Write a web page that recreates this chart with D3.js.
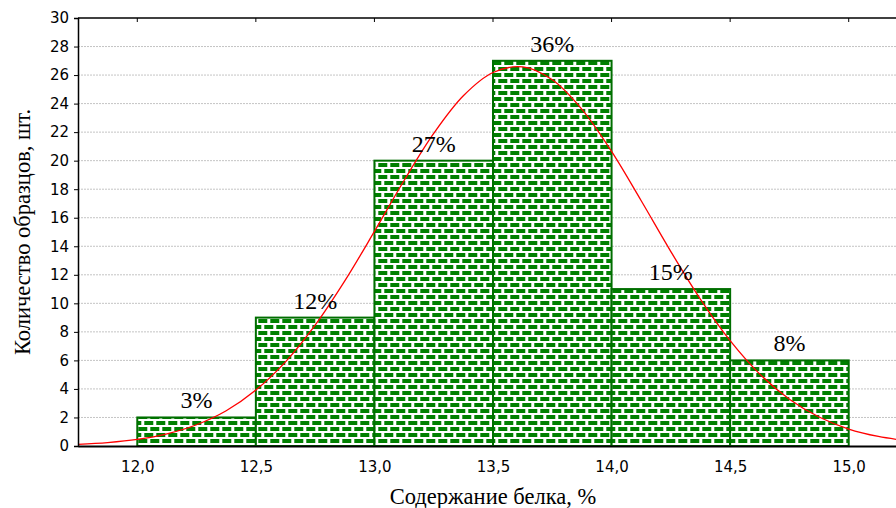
<!DOCTYPE html>
<html><head><meta charset="utf-8">
<script src="https://cdn.jsdelivr.net/npm/d3@7"></script>
<style>body{margin:0;background:#fff}</style>
</head><body>
<svg id="c" width="896" height="508"></svg>
<script>
// Data
const binStarts = [12.0, 12.5, 13.0, 13.5, 14.0, 14.5];
const binWidth = 0.5;
const counts = [2, 9, 20, 27, 11, 6];
const percentLabels = ["3%", "12%", "27%", "36%", "15%", "8%"];
const xTicks = [12.0, 12.5, 13.0, 13.5, 14.0, 14.5, 15.0];
const yTicks = [0,2,4,6,8,10,12,14,16,18,20,22,24,26,28,30];
const curveX = [11.75,11.875,12.0,12.125,12.25,12.375,12.5,12.625,12.75,12.875,13.0,13.125,13.25,13.375,13.5,13.625,13.75,13.875,14.0,14.125,14.25,14.375,14.5,14.625,14.75,14.875,15.0,15.125,15.25];
const curveY = [0.12,0.24,0.46,0.85,1.49,2.47,3.92,5.9,8.47,11.57,15.04,18.61,21.91,24.55,26.18,26.57,25.67,23.6,20.65,17.19,13.63,10.28,7.38,5.04,3.28,2.03,1.19,0.67,0.36];
const xTitle = "Содержание белка, %";
const yTitle = "Количество образцов, шт.";

const svg = d3.select("#c");
const L = 78, R = 908, T = 18, B = 446;
const x = d3.scaleLinear().domain([11.75, 15.25]).range([L, R]);
const y = d3.scaleLinear().domain([0, 30]).range([B, T]);

// pattern
const defs = svg.append("defs");
const pat = defs.append("pattern").attr("id","brick").attr("patternUnits","userSpaceOnUse")
  .attr("width",12).attr("height",12).attr("x", x(12.0)).attr("y", y(30));
pat.append("rect").attr("width",12).attr("height",12).attr("fill","#fff");
[[1,1],[7,7],[-5,7]].forEach(([px,py])=>{
  pat.append("rect").attr("x",px).attr("y",py).attr("width",9).attr("height",4).attr("fill","#008000");
});
defs.append("clipPath").attr("id","plot").append("rect").attr("x",L).attr("y",T).attr("width",R-L).attr("height",B-T);

// gridlines
svg.append("g").selectAll("line").data(yTicks.filter(d=>d>0 && d<30)).join("line")
  .attr("x1",L).attr("x2",R).attr("y1",d=>y(d)).attr("y2",d=>y(d))
  .attr("stroke","#c4c4c4").attr("stroke-width",1).attr("stroke-dasharray","2,1");

// bars
svg.append("g").selectAll("rect").data(counts).join("rect")
  .attr("x",(d,i)=>x(binStarts[i]))
  .attr("y",d=>y(d))
  .attr("width",(d,i)=>x(binStarts[i]+binWidth)-x(binStarts[i]))
  .attr("height",d=>B-y(d))
  .attr("fill","url(#brick)")
  .attr("stroke","#006e00").attr("stroke-width",2);

// curve
const line = d3.line().x((d,i)=>x(curveX[i])).y(d=>y(d)).curve(d3.curveCatmullRom);
svg.append("path").datum(curveY).attr("d",line).attr("fill","none")
  .attr("stroke","#ff0000").attr("stroke-width",1.3).attr("clip-path","url(#plot)");

// percent labels
svg.append("g").selectAll("text").data(percentLabels).join("text")
  .attr("x",(d,i)=>x(binStarts[i]+binWidth/2))
  .attr("y",(d,i)=>y(counts[i])-9)
  .attr("text-anchor","middle")
  .attr("font-family","'Liberation Serif', 'Times New Roman', serif")
  .attr("font-size",24).attr("fill","#000")
  .text(d=>d);

// axes frame
svg.append("line").attr("x1",L).attr("x2",R).attr("y1",T).attr("y2",T).attr("stroke","#000").attr("stroke-width",1.5);
svg.append("line").attr("x1",R).attr("x2",R).attr("y1",T).attr("y2",B).attr("stroke","#000").attr("stroke-width",1.5);

// Y axis
const yAxis = d3.axisLeft(y).tickValues(yTicks).tickSize(4).tickPadding(5).tickFormat(d3.format("d"));
const gy = svg.append("g").attr("transform",`translate(${L},0)`).call(yAxis);
gy.select(".domain").attr("stroke-width",1.5);
gy.selectAll("text").attr("font-family","'DejaVu Sans', sans-serif").attr("font-size",15).attr("fill","#000");

// X axis
const xAxis = d3.axisBottom(x).tickValues(xTicks).tickSize(0).tickPadding(15).tickFormat(d=>d3.format(".1f")(d).replace(".",","));
const gx = svg.append("g").attr("transform",`translate(0,${B})`).call(xAxis);
gx.select(".domain").attr("stroke-width",2);
gx.selectAll("text").attr("font-family","'DejaVu Sans', sans-serif").attr("font-size",15).attr("fill","#000");

// top ticks (inside)
svg.append("g").selectAll("line").data(xTicks).join("line")
  .attr("x1",d=>x(d)).attr("x2",d=>x(d)).attr("y1",T).attr("y2",T+4)
  .attr("stroke","#000").attr("stroke-width",1);

// titles
svg.append("text").attr("x",(L+R)/2).attr("y",504).attr("text-anchor","middle")
  .attr("font-family","'Liberation Serif', 'Times New Roman', serif").attr("font-size",22.5).text(xTitle);
svg.append("text").attr("transform",`translate(30,${(T+B)/2}) rotate(-90)`).attr("text-anchor","middle")
  .attr("font-family","'Liberation Serif', 'Times New Roman', serif").attr("font-size",22.5).text(yTitle);
</script>
</body></html>
